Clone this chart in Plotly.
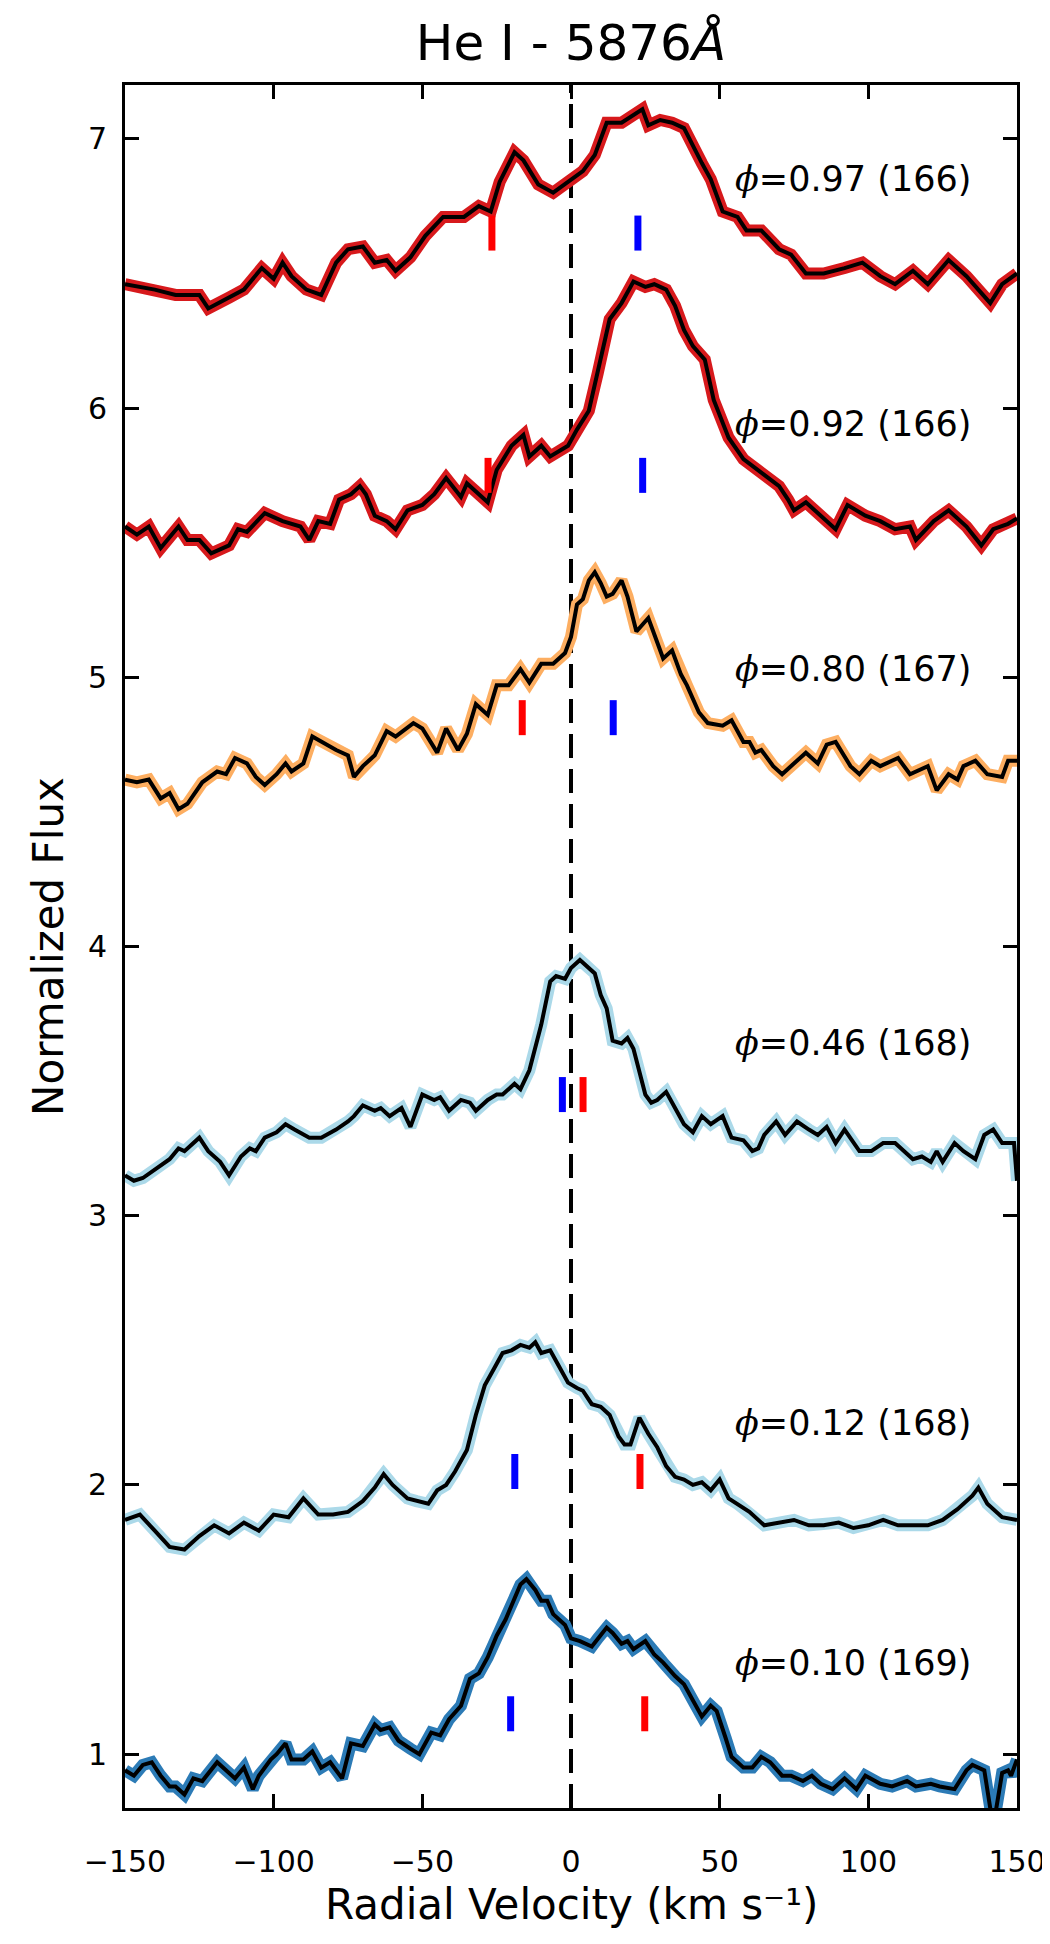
import plotly.graph_objects as go

# ---------------- data ----------------
v_097 = [-150,-140,-133,-125,-122,-115,-110,-104,-100,-97,-94,-89,-84,-79,-75,-70,-66,-62,-59,-54,-49,-43,-36,-31,-27,-24,-19,-16,-11,-6,0,4,8,12,17,21,24,26,30,34,38,44,47,51,56,59,64,70,74,79,85,92,98,104,109,115,120,127,133,141,145,150]
f_097 = [6.46,6.44,6.42,6.42,6.37,6.41,6.44,6.52,6.48,6.54,6.49,6.44,6.42,6.54,6.59,6.60,6.54,6.55,6.51,6.56,6.64,6.71,6.71,6.75,6.73,6.84,6.95,6.92,6.83,6.80,6.85,6.88,6.94,7.06,7.06,7.09,7.11,7.05,7.07,7.06,7.04,6.91,6.85,6.73,6.71,6.66,6.66,6.59,6.57,6.50,6.50,6.52,6.54,6.49,6.46,6.51,6.46,6.55,6.49,6.39,6.46,6.50]

v_092 = [-150,-146,-142,-138,-132,-129,-125,-121,-115,-112,-109,-103,-97,-91,-88,-85,-81,-78,-74,-71,-69,-66,-62,-59,-55,-50,-46,-42,-37,-35,-32,-28,-25,-20,-16,-14,-10,-7,-1,2,6,9,13,17,21,25,28,32,35,38,41,45,48,53,58,64,70,73,75,79,84,89,93,99,104,109,114,116,122,127,133,138,142,147,150]
f_092 = [5.56,5.53,5.56,5.48,5.56,5.51,5.51,5.46,5.49,5.55,5.54,5.61,5.58,5.56,5.51,5.58,5.57,5.66,5.68,5.71,5.68,5.60,5.58,5.55,5.62,5.64,5.68,5.74,5.67,5.72,5.69,5.65,5.77,5.86,5.90,5.82,5.86,5.82,5.86,5.92,5.99,6.13,6.33,6.39,6.47,6.45,6.46,6.44,6.38,6.29,6.23,6.18,6.03,5.89,5.81,5.76,5.71,5.66,5.62,5.65,5.60,5.55,5.64,5.60,5.58,5.55,5.56,5.51,5.58,5.62,5.56,5.49,5.55,5.57,5.59]

v_080 = [-150,-146,-142,-138,-135,-132,-129,-124,-119,-116,-113,-109,-106,-103,-99,-96,-94,-90,-87,-84,-79,-75,-73,-70,-66,-62,-59,-53,-50,-45,-42,-38,-35,-32,-28,-25,-21,-17,-14,-10,-6,-2,0,2,4,6,8,10,12,14,17,19,22,26,28,31,34,37,39,43,46,51,54,58,60,62,64,68,71,76,79,83,86,89,94,97,101,104,110,114,120,123,127,130,132,136,140,145,147,150]
f_080 = [4.62,4.61,4.62,4.55,4.57,4.51,4.53,4.61,4.65,4.64,4.70,4.68,4.63,4.60,4.64,4.68,4.65,4.68,4.78,4.76,4.73,4.71,4.63,4.67,4.71,4.80,4.78,4.83,4.81,4.72,4.81,4.73,4.79,4.90,4.86,4.97,4.97,5.03,4.98,5.05,5.05,5.09,5.15,5.27,5.29,5.36,5.39,5.35,5.30,5.31,5.36,5.30,5.17,5.22,5.16,5.07,5.10,5.01,4.97,4.87,4.83,4.82,4.84,4.76,4.76,4.72,4.73,4.67,4.64,4.69,4.72,4.68,4.75,4.76,4.67,4.64,4.69,4.67,4.70,4.64,4.67,4.58,4.64,4.62,4.67,4.69,4.64,4.63,4.69,4.69]

v_046 = [-150,-147,-144,-140,-135,-132,-130,-125,-122,-118,-115,-111,-108,-106,-103,-99,-96,-93,-88,-84,-79,-75,-73,-70,-66,-64,-61,-57,-54,-50,-46,-44,-41,-37,-34,-32,-28,-25,-23,-19,-17,-14,-10,-7,-5,-2,0,3,6,8,10,12,14,17,19,21,25,27,29,32,35,38,41,44,47,51,54,58,61,63,65,69,72,76,80,83,86,89,92,97,101,105,109,113,115,118,121,123,125,129,132,136,139,142,145,149,150]
f_046 = [3.15,3.13,3.14,3.17,3.21,3.25,3.24,3.29,3.24,3.20,3.15,3.22,3.25,3.24,3.29,3.31,3.34,3.32,3.29,3.29,3.32,3.35,3.37,3.41,3.39,3.40,3.37,3.40,3.33,3.45,3.43,3.44,3.39,3.43,3.42,3.39,3.43,3.45,3.45,3.49,3.47,3.54,3.71,3.87,3.89,3.88,3.92,3.95,3.92,3.90,3.82,3.77,3.65,3.64,3.66,3.62,3.45,3.42,3.43,3.46,3.40,3.34,3.31,3.37,3.34,3.37,3.29,3.28,3.24,3.25,3.30,3.35,3.30,3.35,3.32,3.30,3.33,3.27,3.32,3.24,3.24,3.27,3.27,3.23,3.21,3.22,3.20,3.24,3.20,3.27,3.24,3.21,3.30,3.32,3.27,3.27,3.13]

v_012 = [-150,-145,-140,-135,-130,-125,-120,-115,-110,-105,-100,-95,-90,-85,-80,-75,-70,-66,-63,-60,-55,-52,-48,-45,-42,-39,-35,-32,-29,-26,-23,-20,-17,-14,-12,-10,-7,-4,-1,2,4,7,10,13,16,18,20,23,26,29,32,35,38,41,44,47,50,53,56,60,65,70,75,80,85,90,95,100,105,110,115,120,125,130,135,137,140,145,150]
f_012 = [1.87,1.89,1.83,1.77,1.76,1.81,1.85,1.82,1.86,1.83,1.89,1.88,1.95,1.89,1.89,1.90,1.94,1.99,2.04,2.00,1.95,1.94,1.93,1.98,2.00,2.05,2.13,2.26,2.37,2.43,2.49,2.50,2.52,2.51,2.53,2.49,2.50,2.44,2.38,2.36,2.35,2.30,2.29,2.26,2.18,2.15,2.15,2.25,2.19,2.14,2.07,2.03,2.02,2.00,2.01,1.98,2.02,1.95,1.93,1.90,1.85,1.86,1.87,1.85,1.85,1.86,1.84,1.85,1.87,1.85,1.85,1.85,1.87,1.91,1.96,1.99,1.93,1.88,1.87]

v_010 = [-150,-147,-144,-141,-138,-135,-133,-130,-127,-124,-119,-116,-113,-110,-107,-105,-101,-99,-96,-94,-90,-87,-84,-81,-77,-74,-70,-66,-64,-61,-58,-54,-51,-47,-44,-41,-37,-34,-31,-28,-25,-22,-19,-17,-15,-12,-10,-8,-6,-2,0,3,7,9,12,14,17,19,21,25,28,31,35,38,41,44,47,49,52,54,58,61,64,67,71,74,78,81,84,88,92,96,99,104,108,113,116,121,124,129,133,135,139,141,142,145,147,148,150]
f_010 = [0.94,0.92,0.96,0.97,0.92,0.88,0.88,0.85,0.91,0.90,0.97,0.94,0.91,0.95,0.87,0.92,0.98,1.00,1.04,0.98,0.98,1.01,0.95,0.97,0.91,1.04,1.03,1.11,1.09,1.10,1.05,1.02,1.00,1.08,1.07,1.13,1.18,1.28,1.30,1.36,1.44,1.50,1.58,1.63,1.65,1.61,1.57,1.57,1.52,1.48,1.43,1.42,1.40,1.43,1.47,1.45,1.41,1.42,1.39,1.42,1.37,1.34,1.29,1.26,1.20,1.14,1.18,1.16,1.06,0.99,0.95,0.95,0.99,0.97,0.92,0.92,0.90,0.92,0.89,0.87,0.91,0.87,0.92,0.89,0.88,0.90,0.88,0.89,0.88,0.87,0.94,0.96,0.94,0.78,0.73,0.93,0.94,0.92,0.98]

spectra_v = [v_010, v_012, v_046, v_080, v_092, v_097]
spectra_f = [f_010, f_012, f_046, f_080, f_092, f_097]
outline_colors = ["#2c7bb6", "#abd9e9", "#abd9e9", "#fdae61", "#d7191c", "#d7191c"]
labels = ["0.10 (169)", "0.12 (168)", "0.46 (168)", "0.80 (167)", "0.92 (166)", "0.97 (166)"]
label_y = [1.34, 2.23, 3.64, 5.03, 5.94, 6.85]

# velocity markers (primary / secondary) and their centre heights
mark_blue_v = [-20.3, -18.9, -2.9, 14.2, 24.1, 22.5]
mark_red_v = [24.8, 23.2, 4.05, -16.4, -27.9, -26.6]
mark_y = [1.15, 2.05, 3.45, 4.85, 5.75, 6.65]
mark_half = 0.065

x_ticks = [-150, -100, -50, 0, 50, 100, 150]
y_ticks = [1, 2, 3, 4, 5, 6, 7]

FONT = "DejaVu Sans"

fig = go.Figure()

for v, f, c in zip(spectra_v, spectra_f, outline_colors):
    fig.add_trace(go.Scatter(x=v, y=f, mode="lines",
                             line=dict(color=c, width=12), showlegend=False,
                             hoverinfo="skip"))
    fig.add_trace(go.Scatter(x=v, y=f, mode="lines",
                             line=dict(color="black", width=4), showlegend=False))

for vb, vr, ym in zip(mark_blue_v, mark_red_v, mark_y):
    fig.add_trace(go.Scatter(x=[vb, vb], y=[ym - mark_half, ym + mark_half], mode="lines",
                             line=dict(color="#0000ff", width=7), showlegend=False))
    fig.add_trace(go.Scatter(x=[vr, vr], y=[ym - mark_half, ym + mark_half], mode="lines",
                             line=dict(color="#ff0000", width=7), showlegend=False))

fig.add_vline(x=0, line=dict(color="black", width=4, dash="24px,11px"), layer="below")

for lab, ly in zip(labels, label_y):
    fig.add_annotation(x=54.5, y=ly, xref="x", yref="y",
                       text="<span style='font-family:DejaVu Serif'><i>ϕ</i></span>=" + lab,
                       showarrow=False, xanchor="left", yanchor="middle",
                       font=dict(family=FONT, size=35, color="black"))

# x-axis title placed below the tick labels
fig.add_annotation(x=0.5, y=-96 / 1723, xref="paper", yref="paper",
                   text="Radial Velocity (km s⁻¹)", showarrow=False,
                   xanchor="center", yanchor="middle", borderpad=0,
                   font=dict(family=FONT, size=42, color="black"))

axis_common = dict(showline=True, linecolor="black", linewidth=3, mirror="ticks",
                   ticks="inside", ticklen=14, tickwidth=3, tickcolor="black",
                   showgrid=False, zeroline=False,
                   tickfont=dict(family=FONT, size=30, color="black"))

fig.update_xaxes(range=[-150, 150], tickvals=x_ticks,
                 ticktext=[("−" + str(-t)) if t < 0 else str(t) for t in x_ticks],
                 ticklabelstandoff=25,
                 **axis_common)
fig.update_yaxes(range=[0.8, 7.2], tickvals=y_ticks,
                 title=dict(text="Normalized Flux",
                            font=dict(family=FONT, size=42, color="black"), standoff=12),
                 ticklabelstandoff=9,
                 **axis_common)

# the page body adds an 8 px offset, so margins are reduced on the top/left
fig.update_layout(
    width=1050, height=1944,
    margin=dict(l=117, r=41, t=77, b=144),
    paper_bgcolor="white", plot_bgcolor="white",
    title=dict(text="He I - 5876<i>Å</i>", x=0.5, xref="paper", y=1 - 34 / 1944,
               yref="container", xanchor="center", yanchor="middle",
               font=dict(family=FONT, size=50, color="black")),
)

fig.write_html("out.html")
